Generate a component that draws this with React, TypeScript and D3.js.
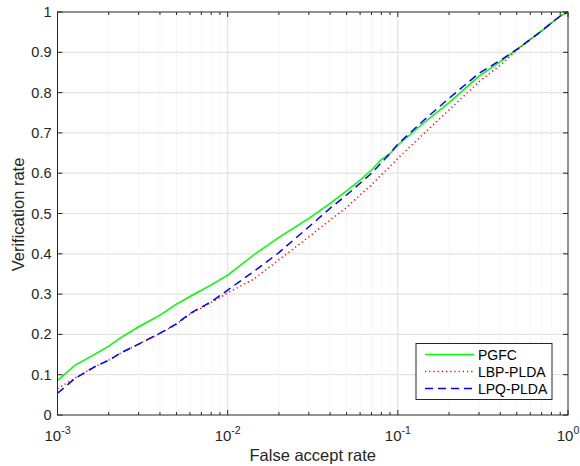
import React from 'react';
import * as d3 from 'd3';

// FAR sample positions and the three verification-rate curves
const far = [0.001, 0.00127, 0.00166, 0.002, 0.00238, 0.003, 0.004, 0.005, 0.006, 0.008, 0.01,
  0.0142, 0.02, 0.03, 0.04, 0.05, 0.06, 0.07, 0.08, 0.09, 0.1,
  0.141, 0.2, 0.3, 0.4, 0.5, 0.6, 0.7, 0.8, 0.9, 1.0];
const pgfc = [0.086, 0.124, 0.151, 0.171, 0.193, 0.219, 0.248, 0.275, 0.294, 0.323, 0.347,
  0.397, 0.441, 0.488, 0.525, 0.556, 0.583, 0.608, 0.634, 0.649, 0.67,
  0.724, 0.775, 0.841, 0.877, 0.907, 0.932, 0.953, 0.973, 0.99, 1.0];
const lbpPlda = [0.065, 0.092, 0.12, 0.136, 0.155, 0.176, 0.202, 0.225, 0.25, 0.279, 0.303,
  0.337, 0.385, 0.442, 0.484, 0.515, 0.546, 0.571, 0.596, 0.617, 0.637,
  0.697, 0.757, 0.827, 0.868, 0.905, 0.932, 0.953, 0.973, 0.99, 1.0];
const lpqPlda = [0.054, 0.091, 0.12, 0.136, 0.155, 0.176, 0.203, 0.226, 0.252, 0.281, 0.31,
  0.356, 0.403, 0.467, 0.513, 0.546, 0.575, 0.6, 0.626, 0.649, 0.672,
  0.73, 0.786, 0.848, 0.88, 0.907, 0.932, 0.953, 0.973, 0.99, 1.0];

const seriesNames = ['PGFC', 'LBP-PLDA', 'LPQ-PLDA'];
const yTicks = [0, 0.1, 0.2, 0.3, 0.4, 0.5, 0.6, 0.7, 0.8, 0.9, 1];
const xDecades = [-3, -2, -1, 0];

const W = 580, H = 466;
const margin = { left: 57.5, right: 12, top: 12, bottom: 51 };
const font = '"Liberation Sans", Arial, Helvetica, sans-serif';
const axisColor = '#262626';

const App = () => {
  const x = d3.scaleLog().domain([1e-3, 1]).range([margin.left, W - margin.right]);
  const y = d3.scaleLinear().domain([0, 1]).range([H - margin.bottom, margin.top]);
  const [x0, x1] = x.range();
  const [y0, y1] = y.range();

  const minorTicks: number[] = [];
  for (let e = -3; e < 0; e++) {
    for (let m = 2; m <= 9; m++) minorTicks.push(m * Math.pow(10, e));
  }

  const line = d3.line<[number, number]>().x(d => x(d[0])).y(d => y(d[1]));
  const mk = (vals: number[]) => far.map((f, i) => [f, vals[i]] as [number, number]);

  const styles = [
    { data: pgfc, color: '#00ff00', dash: undefined, width: 1.5 },
    { data: lbpPlda, color: '#ff0000', dash: '1.2,3', width: 1.5 },
    { data: lpqPlda, color: '#0000ff', dash: '8,5', width: 1.5 },
  ];

  const leg = { x: 416, y: 343.5, w: 136, h: 56 };

  return (
    <svg width={W} height={H} style={{ position: 'absolute', left: 0, top: 0, background: '#fff' }}
      fontFamily={font}>
      <rect x={0} y={0} width={W} height={H} fill="#fff" />
      {/* minor vertical grid */}
      {minorTicks.map(t => (
        <line key={'mg' + t} x1={x(t)} x2={x(t)} y1={y0} y2={y1} stroke="#d4d4d4"
          strokeWidth={0.8} strokeDasharray="1,3" />
      ))}
      {/* major grid */}
      {yTicks.slice(1, -1).map(t => (
        <line key={'hg' + t} x1={x0} x2={x1} y1={y(t)} y2={y(t)} stroke="#e3e3e3" strokeWidth={1.2} />
      ))}
      {xDecades.slice(1, -1).map(e => (
        <line key={'vg' + e} x1={x(Math.pow(10, e))} x2={x(Math.pow(10, e))} y1={y0} y2={y1}
          stroke="#e3e3e3" strokeWidth={1.2} />
      ))}

      {/* curves */}
      <defs>
        <clipPath id="plot">
          <rect x={x0} y={y1} width={x1 - x0} height={y0 - y1} />
        </clipPath>
      </defs>
      <g clipPath="url(#plot)">
        {styles.map((s, i) => (
          <path key={seriesNames[i]} d={line(mk(s.data)) || ''} fill="none" stroke={s.color}
            strokeWidth={s.width} strokeDasharray={s.dash} />
        ))}
      </g>

      {/* axes box */}
      <rect x={x0} y={y1} width={x1 - x0} height={y0 - y1} fill="none" stroke={axisColor} strokeWidth={1} />
      {/* y ticks */}
      {yTicks.map(t => (
        <g key={'yt' + t}>
          <line x1={x0} x2={x0 + 5} y1={y(t)} y2={y(t)} stroke={axisColor} />
          <line x1={x1} x2={x1 - 5} y1={y(t)} y2={y(t)} stroke={axisColor} />
          <text x={51.5} y={y(t) + 5} textAnchor="end" fontSize={14.5} fill={axisColor}>{t}</text>
        </g>
      ))}
      {/* x ticks */}
      {xDecades.map(e => {
        const px = x(Math.pow(10, e));
        return (
          <g key={'xt' + e}>
            <line x1={px} x2={px} y1={y0} y2={y0 - 5} stroke={axisColor} />
            <line x1={px} x2={px} y1={y1} y2={y1 + 5} stroke={axisColor} />
            <text x={px} y={440.5} textAnchor="middle" fontSize={15} fill={axisColor}>
              10<tspan dy={-7} fontSize={10.5}>{e === 0 ? '0' : '-' + Math.abs(e)}</tspan>
            </text>
          </g>
        );
      })}
      {minorTicks.map(t => (
        <g key={'mt' + t}>
          <line x1={x(t)} x2={x(t)} y1={y0} y2={y0 - 3} stroke={axisColor} />
          <line x1={x(t)} x2={x(t)} y1={y1} y2={y1 + 3} stroke={axisColor} />
        </g>
      ))}

      {/* axis labels */}
      <text x={(x0 + x1) / 2} y={460.5} textAnchor="middle" fontSize={16.5} fill={axisColor}>False accept rate</text>
      <text transform={`translate(23.5,${(y0 + y1) / 2 + 1}) rotate(-90)`} textAnchor="middle" fontSize={16.5}
        fill={axisColor}>Verification rate</text>

      {/* legend */}
      <rect x={leg.x} y={leg.y} width={leg.w} height={leg.h} fill="#fff" stroke={axisColor} strokeWidth={1} />
      {styles.map((s, i) => {
        const ly = leg.y + 11 + i * 17;
        return (
          <g key={'lg' + i}>
            <line x1={leg.x + 9} x2={leg.x + 58} y1={ly} y2={ly} stroke={s.color} strokeWidth={s.width}
              strokeDasharray={s.dash} />
            <text x={leg.x + 62} y={ly + 5} fontSize={14} fill="#000">{seriesNames[i]}</text>
          </g>
        );
      })}
    </svg>
  );
};

export default App;
